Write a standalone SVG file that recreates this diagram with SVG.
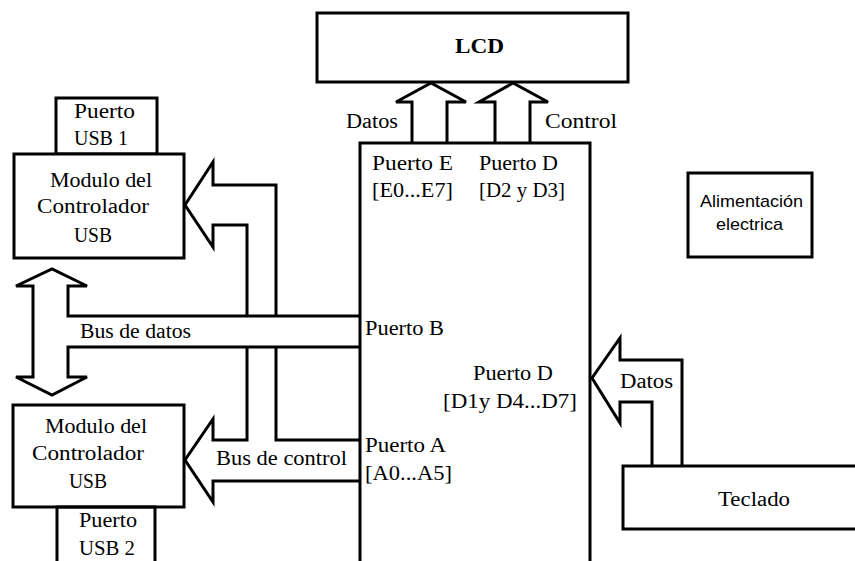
<svg xmlns="http://www.w3.org/2000/svg" width="855" height="561" viewBox="0 0 855 561">
<style>
.box{fill:#fff;stroke:#000;stroke-width:3}
.ln{fill:none;stroke:#000;stroke-width:3;stroke-linejoin:miter}
.t{font-family:'Liberation Serif','DejaVu Serif',serif;font-size:20px;fill:#000}
.b{font-weight:bold}
.s{font-family:'Liberation Sans','DejaVu Sans',sans-serif;font-size:17px;fill:#000}
</style>
<rect x="0" y="0" width="855" height="561" fill="#fff"/>
<g id="lcd">
<rect class="box" x="317" y="13" width="311" height="69"/>
<text class="t b" x="455" y="53" textLength="49" lengthAdjust="spacingAndGlyphs">LCD</text>
</g>
<g id="microcontrolador">
<path class="ln" d="M360,566 V143 H590 V566"/>
<text class="t" x="372" y="170" textLength="81" lengthAdjust="spacingAndGlyphs">Puerto E</text>
<text class="t" x="372" y="197" textLength="81" lengthAdjust="spacingAndGlyphs">[E0...E7]</text>
<text class="t" x="479" y="170" textLength="79" lengthAdjust="spacingAndGlyphs">Puerto D</text>
<text class="t" x="479" y="197" textLength="86" lengthAdjust="spacingAndGlyphs">[D2 y D3]</text>
<text class="t" x="365" y="335" textLength="79" lengthAdjust="spacingAndGlyphs">Puerto B</text>
<text class="t" x="473" y="380" textLength="80" lengthAdjust="spacingAndGlyphs">Puerto D</text>
<text class="t" x="443" y="408" textLength="134" lengthAdjust="spacingAndGlyphs">[D1y D4...D7]</text>
<text class="t" x="365" y="452" textLength="81" lengthAdjust="spacingAndGlyphs">Puerto A</text>
<text class="t" x="365" y="480" textLength="87" lengthAdjust="spacingAndGlyphs">[A0...A5]</text>
</g>
<g id="puerto_usb1">
<rect class="box" x="56" y="98" width="101" height="56"/>
<text class="t" x="74" y="118" textLength="61" lengthAdjust="spacingAndGlyphs">Puerto</text>
<text class="t" x="74" y="145" textLength="54" lengthAdjust="spacingAndGlyphs">USB 1</text>
</g>
<g id="modulo_usb1">
<rect class="box" x="14" y="154" width="170" height="104"/>
<text class="t" x="50" y="187" textLength="102" lengthAdjust="spacingAndGlyphs">Modulo del</text>
<text class="t" x="37" y="213" textLength="112" lengthAdjust="spacingAndGlyphs">Controlador</text>
<text class="t" x="74" y="242" textLength="38" lengthAdjust="spacingAndGlyphs">USB</text>
</g>
<g id="modulo_usb2">
<rect class="box" x="13" y="405" width="171" height="102"/>
<text class="t" x="45" y="433" textLength="102" lengthAdjust="spacingAndGlyphs">Modulo del</text>
<text class="t" x="32" y="460" textLength="112" lengthAdjust="spacingAndGlyphs">Controlador</text>
<text class="t" x="69" y="488" textLength="38" lengthAdjust="spacingAndGlyphs">USB</text>
</g>
<g id="puerto_usb2">
<path class="ln" d="M57,566 V507 H155 V566"/>
<text class="t" x="79" y="527" textLength="58" lengthAdjust="spacingAndGlyphs">Puerto</text>
<text class="t" x="79" y="555" textLength="56" lengthAdjust="spacingAndGlyphs">USB 2</text>
</g>
<g id="alimentacion">
<rect class="box" x="688" y="173" width="124" height="84"/>
<text class="s" x="700" y="207" textLength="103" lengthAdjust="spacingAndGlyphs">Alimentación</text>
<text class="s" x="716" y="230" textLength="67" lengthAdjust="spacingAndGlyphs">electrica</text>
</g>
<g id="teclado">
<path class="ln" d="M860,466 H623 V529 H860"/>
<text class="t" x="718" y="506" textLength="72" lengthAdjust="spacingAndGlyphs">Teclado</text>
</g>
<g id="connectors">
<path class="ln" d="M412,143 V102 H396 L431,83 L466,102 H447 V143"/>
<path class="ln" d="M495,143 V102 H479 L513,83 L548,102 H530 V143"/>
<path class="ln" d="M276,316 V185 H213 V162 L185,205 L213,247 V225 H247 V316"/>
<path class="ln" d="M360,316 H68 V286 H87 L52,269 L16,286 H33 V377 H16 L52,395 L87,377 H68 V347 H360"/>
<path class="ln" d="M247,347 V440 H213 V419 L185,460 L213,502 V481 H360"/>
<path class="ln" d="M276,347 V440 H360"/>
<path class="ln" d="M652,466 V402 H620 V423 L592,378 L620,338 V360 H682 V466"/>
<text class="t" x="346" y="128" textLength="52" lengthAdjust="spacingAndGlyphs">Datos</text>
<text class="t" x="545" y="128" textLength="72" lengthAdjust="spacingAndGlyphs">Control</text>
<text class="t" x="80" y="338" textLength="111" lengthAdjust="spacingAndGlyphs">Bus de datos</text>
<text class="t" x="216" y="465" textLength="131" lengthAdjust="spacingAndGlyphs">Bus de control</text>
<text class="t" x="620" y="388" textLength="53" lengthAdjust="spacingAndGlyphs">Datos</text>
</g>
</svg>
